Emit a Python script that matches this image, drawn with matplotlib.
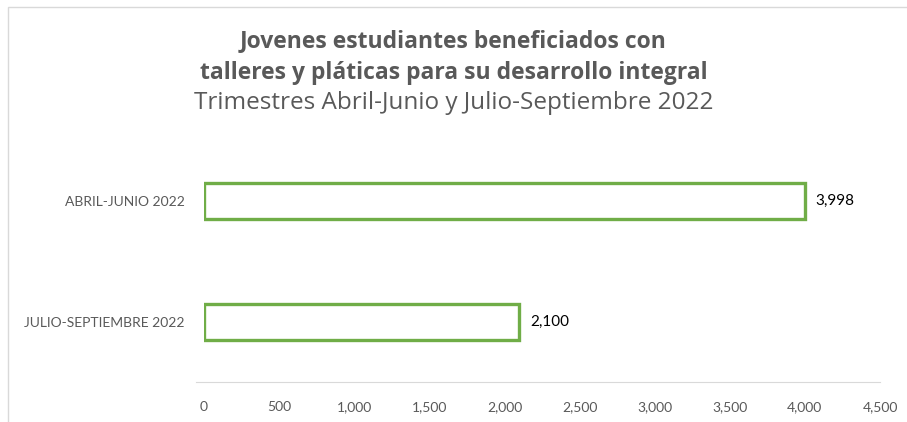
import matplotlib.pyplot as plt
from matplotlib.patches import Rectangle
from matplotlib.ticker import FuncFormatter

plt.rcParams['font.family'] = ['Lato', 'DejaVu Sans']

# data
periodos = ['ABRIL-JUNIO 2022', 'JULIO-SEPTIEMBRE 2022']
jovenes = [3998, 2100]
ticks_x = [0, 500, 1000, 1500, 2000, 2500, 3000, 3500, 4000, 4500]

W, H = 907, 422
fig = plt.figure(figsize=(W / 100, H / 100), dpi=100)

# thin chart-area frame (left and top visible)
fig.patches.append(Rectangle((8 / W, -0.1), 1.2, 1 - 7 / H + 0.1, transform=fig.transFigure,
                             fill=False, edgecolor='#d9d9d9', linewidth=1.0))

ax = fig.add_axes([204 / W, 1 - 382 / H, (880 - 204) / W, (382 - 141) / H])

ypos = list(range(len(periodos)))
ax.barh(ypos, jovenes, height=0.3, color='white', edgecolor='#70ad47', linewidth=2.4)
for y, v in zip(ypos, jovenes):
    ax.text(v + 75, y, f'{v:,}', va='center', ha='left', fontsize=11, color='black')

ax.set_ylim(1.5, -0.5)
ax.set_yticks(ypos)
ax.set_yticklabels(periodos, fontsize=10, color='#595959')
ax.set_xlim(0, 4500)
ax.set_xticks(ticks_x)
ax.xaxis.set_major_formatter(FuncFormatter(lambda v, p: f'{int(v):,}'))
ax.tick_params(axis='x', labelsize=10, labelcolor='#595959', length=0, pad=14)
ax.tick_params(axis='y', length=0, pad=14)
for s in ['top', 'right', 'left']:
    ax.spines[s].set_visible(False)
ax.spines['bottom'].set_color('#d9d9d9')
ax.spines['bottom'].set_bounds(-50, 4500)

tfont = ['Open Sans', 'DejaVu Sans']
fig.text(0.5, 1 - 41 / H, 'Jovenes estudiantes beneficiados con', ha='center', va='center',
         fontsize=16.5, fontweight='bold', color='#595959', family=tfont)
fig.text(0.5, 1 - 73 / H, 'talleres y pláticas para su desarrollo integral', ha='center', va='center',
         fontsize=16.5, fontweight='bold', color='#595959', family=tfont)
fig.text(0.5, 1 - 103 / H, 'Trimestres Abril-Junio y Julio-Septiembre 2022', ha='center', va='center',
         fontsize=17.5, color='#595959', family=tfont)

fig.savefig('out.png', dpi=100)
